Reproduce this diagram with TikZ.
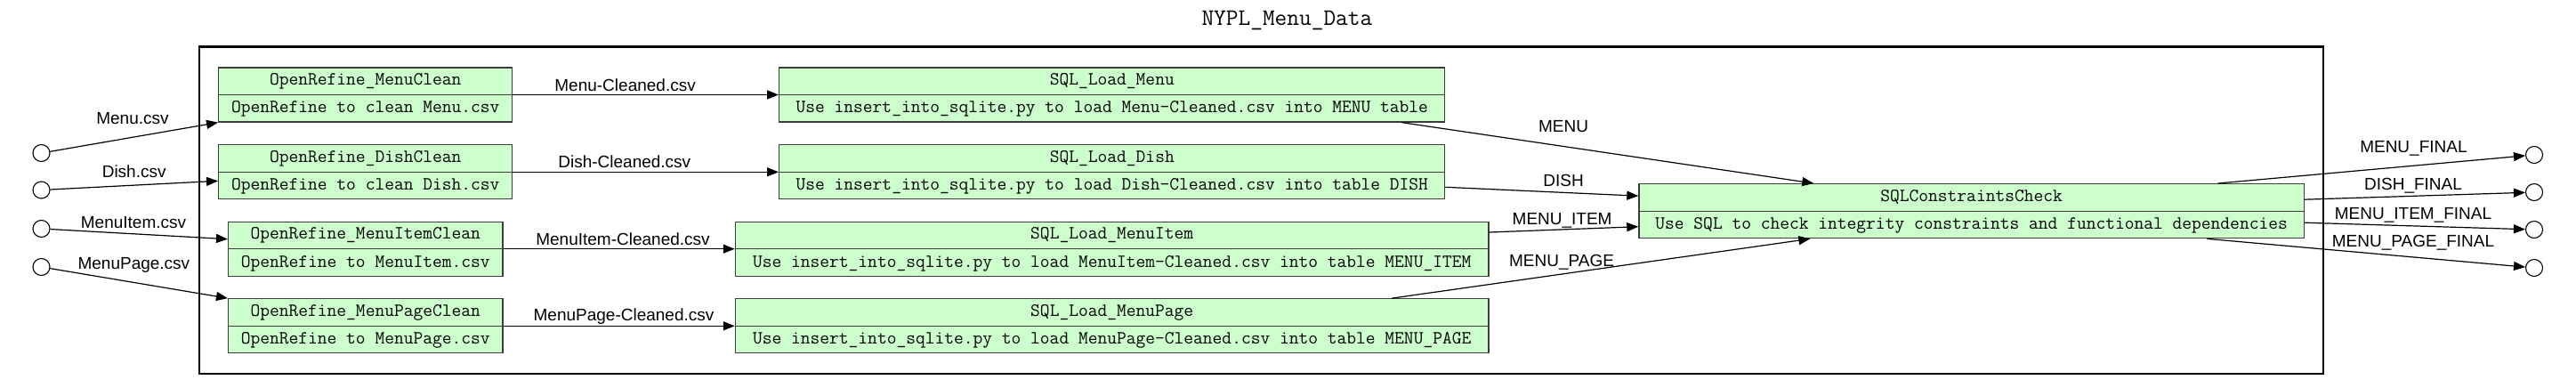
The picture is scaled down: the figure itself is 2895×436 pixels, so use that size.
\documentclass[tikz,border=0pt]{standalone}
\usepackage{fontspec}
\setmainfont{Liberation Sans}
\usetikzlibrary{arrows.meta,calc}
\definecolor{recfill}{HTML}{CCFFCC}
\definecolor{recline}{HTML}{3C3C3C}
\tikzset{
  rec/.style={draw=recline, fill=recfill, line width=1.3pt, minimum height=61pt, inner sep=0pt},
  mtext/.style={font=\ttfamily\fontsize{20.9}{22}\selectfont, inner sep=0pt, text height=12.5pt, text depth=3pt},
  lbl/.style={font=\fontsize{19}{21}\selectfont, inner sep=0pt, text height=13.6pt, text depth=0pt},
  term/.style={draw, circle, line width=1.1pt, minimum size=19pt, inner sep=0pt},
  flow/.style={line width=1.2pt, -{Triangle[length=13pt,width=10pt]}},
  frame/.style={draw, line width=2.6pt}
}
\newcommand{\record}[6]{% name, x, y, width, title, desc
  \node[rec, minimum width=#4pt] (#1) at (#2,#3) {};
  \draw[recline, line width=1.3pt] (#1.west) -- (#1.east);
  \node[mtext] (#1-t) at ($(#1.north)!0.25!(#1.south)$) {#5};
  \node[mtext] (#1-d) at ($(#1.north)!0.75!(#1.south)$) {#6};
}
\begin{document}
\begin{tikzpicture}[x=1pt,y=-1pt]
\useasboundingbox (0,0) rectangle (2895,436);
\node[font=\ttfamily\fontsize{26.6}{28}\selectfont, inner sep=0pt] (title) at (1446.4,23.3) {NYPL\_Menu\_Data};
\draw[frame] (224,52.7) rectangle (2611,420);

\record{orm}{410.75}{106.5}{330.1}{OpenRefine\_MenuClean}{OpenRefine to clean Menu.csv}
\record{ord}{410.75}{193.3}{330.1}{OpenRefine\_DishClean}{OpenRefine to clean Dish.csv}
\record{ormi}{410.75}{279.7}{308.3}{OpenRefine\_MenuItemClean}{OpenRefine to MenuItem.csv}
\record{ormp}{410.75}{366.3}{308.3}{OpenRefine\_MenuPageClean}{OpenRefine to MenuPage.csv}
\record{slm}{1249.8}{106.5}{748}{SQL\_Load\_Menu}{Use insert\_into\_sqlite.py to load Menu-Cleaned.csv into MENU table}
\record{sld}{1249.8}{193.3}{748}{SQL\_Load\_Dish}{Use insert\_into\_sqlite.py to load Dish-Cleaned.csv into table DISH}
\record{slmi}{1249.7}{279.7}{846.6}{SQL\_Load\_MenuItem}{Use insert\_into\_sqlite.py to load MenuItem-Cleaned.csv into table MENU\_ITEM}
\record{slmp}{1249.7}{366.3}{846.6}{SQL\_Load\_MenuPage}{Use insert\_into\_sqlite.py to load MenuPage-Cleaned.csv into table MENU\_PAGE}
\record{scc}{2215.6}{237.2}{747.3}{SQLConstraintsCheck}{Use SQL to check integrity constraints and functional dependencies}

\node[term] (in1) at (46.5,172) {};
\node[term] (in2) at (46.5,213.5) {};
\node[term] (in3) at (46.5,257) {};
\node[term] (in4) at (46.5,300) {};
\node[term] (out1) at (2848,174) {};
\node[term] (out2) at (2848,216) {};
\node[term] (out3) at (2848,258) {};
\node[term] (out4) at (2848,301) {};

\draw[flow] (in1) -- (orm.south west);
\draw[flow] (in2) -- ($(ord.west)+(0,10)$);
\draw[flow] (in3) -- ($(ormi.west)+(0,-11)$);
\draw[flow] (in4) -- (ormp.north west);

\draw[flow] (orm.east) -- (slm.west);
\draw[flow] (ord.east) -- (sld.west);
\draw[flow] (ormi.east) -- (slmi.west);
\draw[flow] (ormp.east) -- (slmp.west);

\draw[flow] ($(slm.south east)+(-49,0)$) -- ($(scc.north west)+(197,0)$);
\draw[flow] ($(sld.east)+(0,17)$) -- ($(scc.west)+(0,-17)$);
\draw[flow] ($(slmi.east)+(0,-18.7)$) -- ($(scc.west)+(0,17.5)$);
\draw[flow] ($(slmp.north east)+(-109.5,0)$) -- ($(scc.south west)+(193,0)$);

\draw[flow] ($(scc.north east)+(-97.6,0)$) -- (out1);
\draw[flow] ($(scc.east)+(0,-13)$) -- (out2);
\draw[flow] ($(scc.east)+(0,13)$) -- (out3);
\draw[flow] ($(scc.south east)+(-109.5,0)$) -- (out4);

\node[lbl] (l1) at (149,132.7) {Menu.csv};
\node[lbl] (l2) at (150.7,193) {Dish.csv};
\node[lbl] (l3) at (150,250) {MenuItem.csv};
\node[lbl] (l4) at (150.4,295.7) {MenuPage.csv};
\node[lbl] (l5) at (702.6,96) {Menu-Cleaned.csv};
\node[lbl] (l6) at (701.8,181.7) {Dish-Cleaned.csv};
\node[lbl] (l7) at (700,268.3) {MenuItem-Cleaned.csv};
\node[lbl] (l8) at (701,354) {MenuPage-Cleaned.csv};
\node[lbl] (l9) at (1757,141.7) {MENU};
\node[lbl] (l10) at (1757,203) {DISH};
\node[lbl] (l11) at (1755.6,246) {MENU\_ITEM};
\node[lbl] (l12) at (1755,293) {MENU\_PAGE};
\node[lbl] (l13) at (2712.4,165) {MENU\_FINAL};
\node[lbl] (l14) at (2712,207) {DISH\_FINAL};
\node[lbl] (l15) at (2712,240) {MENU\_ITEM\_FINAL};
\node[lbl] (l16) at (2712,270.7) {MENU\_PAGE\_FINAL};
\end{tikzpicture}
\end{document}
